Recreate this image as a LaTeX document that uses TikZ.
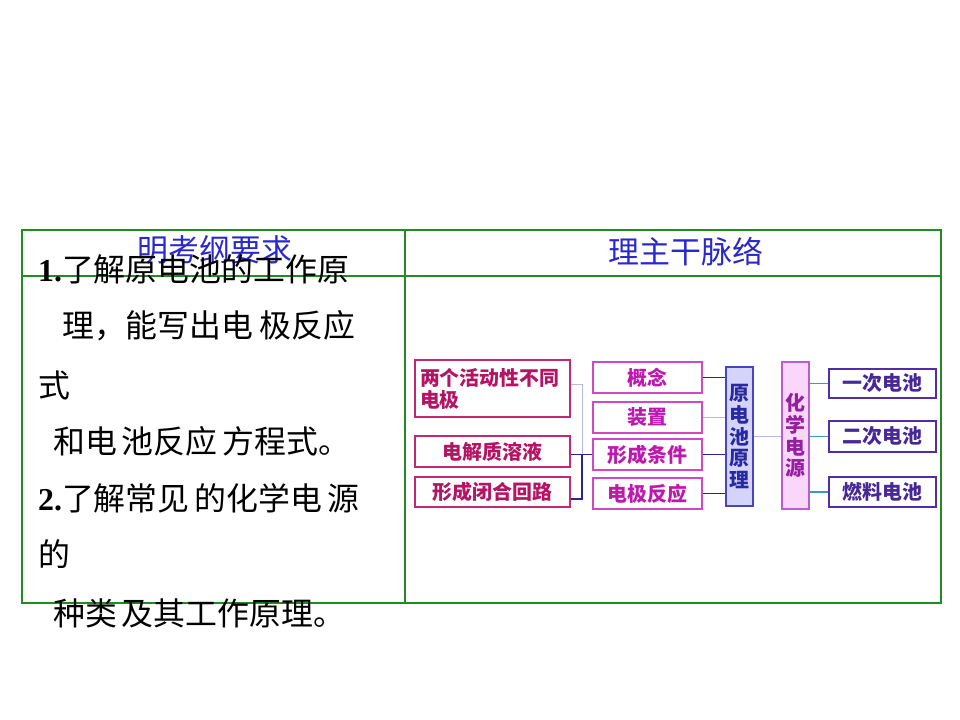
\documentclass[tikz,border=0pt]{standalone}
\usepackage{fontspec}
\setmainfont{Liberation Serif}
\newfontfamily\cjk{Noto Sans CJK SC}
\definecolor{tablegreen}{RGB}{34,139,34}
\definecolor{headblue}{RGB}{40,40,205}
\definecolor{condred}{RGB}{195,40,115}
\definecolor{condtext}{RGB}{180,20,100}
\definecolor{partpink}{RGB}{210,70,200}
\definecolor{parttext}{RGB}{190,25,175}
\definecolor{yuanfill}{RGB}{212,212,250}
\definecolor{yuanblue}{RGB}{70,70,190}
\definecolor{yuantext}{RGB}{40,40,160}
\definecolor{huafill}{RGB}{250,215,250}
\definecolor{huaviolet}{RGB}{190,90,210}
\definecolor{huatext}{RGB}{150,30,160}
\definecolor{kindviolet}{RGB}{80,45,170}
\definecolor{kindtext}{RGB}{70,40,150}
\definecolor{navyline}{RGB}{40,40,140}
\definecolor{paleline}{RGB}{185,185,230}
\definecolor{tealline}{RGB}{60,150,200}

\begin{document}
\begin{tikzpicture}[x=1bp,y=-1bp,
  frame/.style={draw=tablegreen,line width=2bp},
  head/.style={text=headblue,inner sep=0,font=\cjk\fontsize{31}{31}\selectfont},
  req/.style={anchor=base west,inner sep=0,font=\fontsize{32}{32}\selectfont},
  cond/.style={draw=condred,line width=1.3bp,text=condtext,inner sep=0,
    minimum width=155bp,font=\cjk\bfseries\fontsize{20}{22}\selectfont},
  part/.style={draw=partpink,line width=1.3bp,text=parttext,inner sep=0,
    minimum width=109bp,minimum height=31bp,font=\cjk\bfseries\fontsize{20}{22}\selectfont},
  kind/.style={draw=kindviolet,line width=1.3bp,text=kindtext,inner sep=0,
    minimum width=107bp,font=\cjk\bfseries\fontsize{20}{22}\selectfont},
  upright/.style={inner sep=0,line width=1.3bp,minimum width=27bp,align=center,
    font=\cjk\bfseries\fontsize{20}{22}\selectfont},
  navy/.style={draw=navyline,line width=1.5bp},
  pale/.style={draw=paleline,line width=1bp},
  teal/.style={draw=tealline,line width=1.5bp}]
\useasboundingbox (0,0) rectangle (960,720);

\draw[frame] (22,230) rectangle (941,603);
\draw[frame] (22,276) -- (941,276);
\draw[frame] (405,230) -- (405,603);

\node[head] (lefthead) at (215,250) {明考纲要求};
\node[head] (righthead) at (686,252) {理主干脉络};

\node[req] (r1) at (38,281) {\textbf{1.}{\cjk 了解原电池的工作原}};
\node[req] (r2) at (62,337) {\cjk 理，能写出电\hspace{6bp}极反应};
\node[req] (r3) at (38,397) {\cjk 式};
\node[req] (r4) at (53,453) {\cjk 和电\hspace{5bp}池反应\hspace{5bp}方程式。};
\node[req] (r5) at (38,510) {\textbf{2.}{\cjk 了解常见\hspace{5bp}的化学电\hspace{5bp}源}};
\node[req] (r6) at (38,566) {\cjk 的};
\node[req] (r7) at (53,625) {\cjk 种类\hspace{5bp}及其工作原理。};

\node[cond,minimum height=57bp,text width=145bp,align=left] (liang) at (492.5,388.5) {两个活动性不同\\电极};
\node[cond,minimum height=31bp] (dianjie) at (492.5,451.5) {电解质溶液};
\node[cond,minimum height=30bp] (bihe) at (492.5,492) {形成闭合回路};

\node[part] (gainian) at (647.5,377.5) {概念};
\node[part] (zhuangzhi) at (647.5,417.5) {装置};
\node[part] (tiaojian) at (647.5,454.5) {形成条件};
\node[part] (fanying) at (647.5,493.5) {电极反应};

\node[upright,draw=yuanblue,fill=yuanfill,text=yuantext,minimum height=139bp] (yuan) at (739.5,436.5) {原\\电\\池\\原\\理};
\node[upright,draw=huaviolet,fill=huafill,text=huatext,minimum height=147bp] (huaxue) at (795.5,435.5) {化\\学\\电\\源};

\node[kind,minimum height=29bp] (yici) at (882.5,383.5) {一次电池};
\node[kind,minimum height=31bp] (erci) at (882.5,436.5) {二次电池};
\node[kind,minimum height=30bp] (ranliao) at (882.5,492) {燃料电池};

\coordinate (fork) at (582,454.5);
\draw[pale] ([yshift=4bp]liang.east) -| (fork);
\draw[navy] (fork) |- ([yshift=-7bp]bihe.east);
\draw[navy] (tiaojian.west -| dianjie.east) -- (tiaojian.west);

\draw[navy] (gainian.east) -- (gainian.east -| yuan.west);
\draw[pale] (zhuangzhi.east) -- (zhuangzhi.east -| yuan.west);
\draw[navy] (tiaojian.east) -- (tiaojian.east -| yuan.west);
\draw[navy] (fanying.east) -- (fanying.east -| yuan.west);
\draw[pale] (yuan.east) -- (yuan.east -| huaxue.west);

\draw[teal] (yici.west -| huaxue.east) -- (yici.west);
\draw[teal] (erci.west -| huaxue.east) -- (erci.west);
\draw[teal] (ranliao.west -| huaxue.east) -- (ranliao.west);
\end{tikzpicture}
\end{document}
